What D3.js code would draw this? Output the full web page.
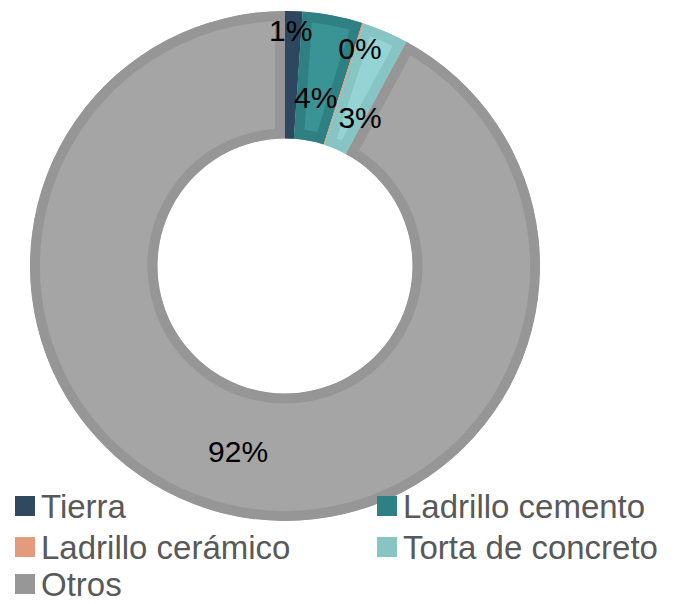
<!DOCTYPE html>
<html>
<head>
<meta charset="utf-8">
<script src="https://cdn.jsdelivr.net/npm/d3@7/dist/d3.min.js"></script>
<style>
  html, body { margin: 0; padding: 0; background: #fff; }
  svg { display: block; }
  text { font-family: "Liberation Sans", Arial, sans-serif; }
</style>
</head>
<body>
<svg id="chart" width="678" height="604"></svg>
<script>
// Materials and their shares (%)
const categories = ["Tierra", "Ladrillo cemento", "Ladrillo cerámico", "Torta de concreto", "Otros"];
const shares = [1.1, 3.8, 0.1, 2.9, 92.1];
const edgeColors = ["#2d4760", "#2e8083", "#e49b7b", "#86c5c4", "#969696"];
const faceColors = ["#32506a", "#3a9395", "#e49b7b", "#94d4d4", "#a5a5a5"];
const legendColors = ["#30495f", "#2e8183", "#e49b7b", "#87c5c4", "#979797"];

const svg = d3.select("#chart");
const cx = 285, cy = 266, rOuter = 255, rInner = 127.5;
const g = svg.append("g").attr("transform", `translate(${cx},${cy})`);

const pie = d3.pie().sort(null).value(d => d)(shares);
const arc = d3.arc().innerRadius(rInner).outerRadius(rOuter);

// Each slice: light face with a darker bevelled rim (stroke clipped to the slice)
const defs = svg.append("defs");
pie.forEach((p, i) => {
  defs.append("clipPath").attr("id", "clip" + i)
    .append("path").attr("d", arc(p));
});
g.selectAll("path.slice").data(pie).join("path")
  .attr("class", "slice")
  .attr("d", arc)
  .attr("fill", (d, i) => faceColors[i])
  .attr("stroke", (d, i) => edgeColors[i])
  .attr("stroke-width", 20)
  .attr("stroke-linejoin", "miter")
  .attr("clip-path", (d, i) => `url(#clip${i})`);

// Percentage labels, placed along each slice's mid-angle (small slices nudged apart)
const labelRadius = [236, 172, 230, 167, 191];
const labelTurn = [-0.6, -0.5, 1.2, 3.5, 0].map(a => a * Math.PI / 180);
const mid = (d, i) => (d.startAngle + d.endAngle) / 2 + labelTurn[i];
g.selectAll("text.pct").data(pie).join("text")
  .attr("class", "pct")
  .attr("x", (d, i) => labelRadius[i] * Math.sin(mid(d, i)))
  .attr("y", (d, i) => -labelRadius[i] * Math.cos(mid(d, i)))
  .attr("dy", "0.36em")
  .attr("text-anchor", "middle")
  .attr("font-size", 30)
  .attr("fill", "#000")
  .text(d => Math.round(d.value) + "%");

// Legend in two columns
const colX = [15, 377], rowY = [506, 547, 584];
const legend = svg.append("g");
categories.forEach((c, i) => {
  const x = colX[i % 2], y = rowY[Math.floor(i / 2)];
  legend.append("rect").attr("x", x).attr("y", y - 10).attr("width", 20).attr("height", 20)
    .attr("fill", legendColors[i]);
  legend.append("text").attr("x", x + 26).attr("y", y).attr("dy", "0.36em")
    .attr("font-size", 33).attr("fill", "#595959").text(c);
});
</script>
</body>
</html>
